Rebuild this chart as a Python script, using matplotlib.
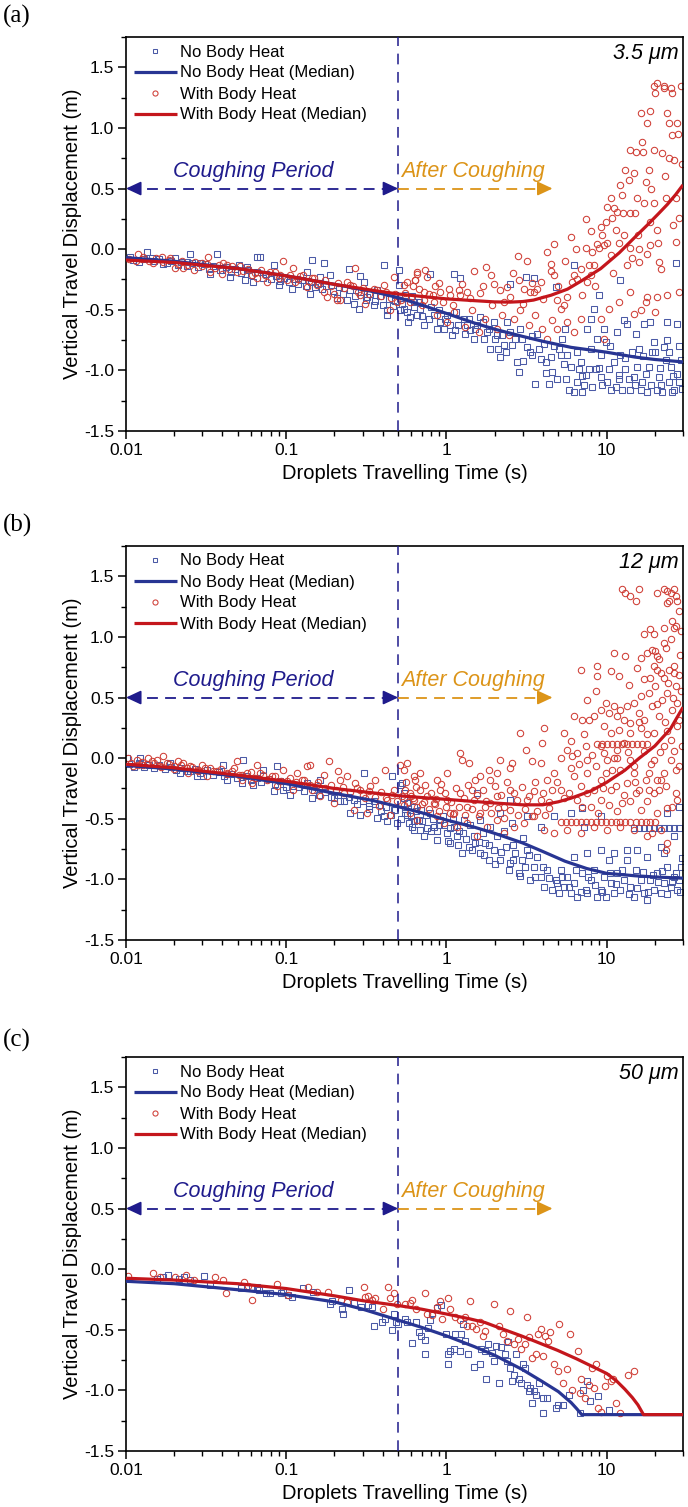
import numpy as np
import matplotlib
matplotlib.use("Agg")
import matplotlib.pyplot as plt
from matplotlib.ticker import FixedLocator, FuncFormatter, LogLocator, NullFormatter, MultipleLocator

plt.rcParams['font.family'] = ['Liberation Sans', 'DejaVu Sans']
plt.rcParams['axes.unicode_minus'] = False

# ---------------- DATA ----------------
PANEL_LABELS = ['(a)', '(b)', '(c)']
SIZES = ['3.5 \u03bcm', '12 \u03bcm', '50 \u03bcm']
X_TICKS = [0.01, 0.1, 1, 10]
Y_TICKS = [-1.5, -1.0, -0.5, 0.0, 0.5, 1.0, 1.5]
COUGH_END = 0.5
AFTER_ARROW_END = 4.6
LEGEND_LABELS = ['No Body Heat', 'No Body Heat (Median)', 'With Body Heat', 'With Body Heat (Median)']

# Panel (a) 3.5 um -- no body heat scatter (t [s], displacement [m])
A_BLUE = [
    (0.0106, -0.063), (0.0135, -0.027), (0.0145, -0.071), (0.0171, -0.126), (0.0202, -0.077), (0.0251, -0.038),
    (0.0239, -0.104), (0.029, -0.118), (0.0335, -0.201), (0.0369, -0.044), (0.0387, -0.173), (0.0447, -0.228),
    (0.0504, -0.132), (0.0554, -0.256), (0.0568, -0.146), (0.0656, -0.063), (0.0688, -0.063), (0.0625, -0.270),
    (0.0834, -0.132), (0.0896, -0.297), (0.108, -0.325), (0.135, -0.187), (0.145, -0.091), (0.141, -0.366),
    (0.173, -0.118), (0.163, -0.228), (0.188, -0.215), (0.207, -0.407), (0.245, -0.165), (0.239, -0.421),
    (0.264, -0.449), (0.283, -0.49), (0.29, -0.22), (0.304, -0.27), (0.319, -0.394), (0.351, -0.462),
    (0.369, -0.339), (0.406, -0.132), (0.426, -0.504), (0.426, -0.545), (0.504, -0.173), (0.504, -0.297),
    (0.516, -0.504), (0.568, -0.518), (0.596, -0.559), (0.625, -0.476),
    (0.011, -0.09), (0.012, -0.11), (0.013, -0.08), (0.015, -0.10), (0.016, -0.085), (0.018, -0.115),
    (0.019, -0.095), (0.021, -0.13), (0.022, -0.105), (0.024, -0.135), (0.026, -0.115), (0.028, -0.145),
    (0.031, -0.125), (0.033, -0.16), (0.035, -0.135), (0.040, -0.175), (0.042, -0.145), (0.045, -0.185),
    (0.048, -0.16), (0.052, -0.20), (0.058, -0.175), (0.060, -0.215), (0.066, -0.19), (0.072, -0.235),
    (0.075, -0.205), (0.080, -0.245), (0.086, -0.22), (0.092, -0.26), (0.097, -0.235), (0.104, -0.275),
    (0.112, -0.245), (0.118, -0.285), (0.125, -0.255), (0.132, -0.30), (0.142, -0.27), (0.152, -0.31),
    (0.158, -0.285), (0.168, -0.33), (0.178, -0.30), (0.195, -0.345), (0.215, -0.315), (0.226, -0.37),
    (0.25, -0.335), (0.27, -0.385), (0.295, -0.35), (0.315, -0.42), (0.335, -0.37), (0.36, -0.43),
    (0.385, -0.39), (0.40, -0.46), (0.44, -0.41), (0.465, -0.47), (0.48, -0.43),
    (0.541, -0.49), (0.596, -0.559), (0.625, -0.435), (0.688, -0.49), (0.721, -0.628), (0.794, -0.201),
    (0.833, -0.545), (0.917, -0.60), (0.962, -0.656), (1.059, -0.628), (1.111, -0.201), (1.138, -0.670),
    (1.223, -0.242), (1.283, -0.573), (1.346, -0.628), (1.413, -0.670), (1.518, -0.656), (1.632, -0.559),
    (1.711, -0.738), (1.839, -0.656), (1.976, -0.60), (2.074, -0.71), (2.175, -0.89), (2.282, -0.793),
    (2.393, -0.60), (2.512, -0.284), (2.70, -0.738), (2.83, -1.014), (2.90, -0.656), (3.12, -0.228),
    (3.19, -0.807), (3.35, -0.848), (3.51, -0.242), (3.60, -1.11), (3.69, -0.697), (3.87, -0.903),
    (4.06, -0.779), (4.36, -1.11), (4.47, -0.89), (4.80, -0.311), (4.92, -1.069), (5.16, -0.876),
    (5.28, -0.738), (5.41, -0.945), (5.68, -0.876), (5.96, -0.972), (6.25, -1.179), (6.25, -0.132),
    (6.56, -1.096), (6.88, -0.931), (7.21, -1.124), (7.57, -0.656), (7.76, -0.986), (7.94, -0.573),
    (8.14, -1.137), (8.33, -0.49), (8.54, -0.986), (8.74, -0.738), (8.96, -0.38), (9.17, -1.055),
    (9.40, -1.124), (9.62, -0.656), (9.86, -0.766), (10.1, -1.096), (10.6, -1.165), (11.1, -0.931),
    (11.7, -0.683), (11.9, -1.069), (12.2, -0.256), (12.5, -1.165), (12.8, -0.587), (13.1, -0.986),
    (13.5, -0.614), (14.1, -1.165), (14.8, -1.055), (15.2, -0.697), (15.5, -0.972), (15.9, -0.821),
    (16.3, -1.165), (17.1, -0.614), (17.5, -1.027), (17.9, -1.179), (18.8, -0.60), (19.8, -0.766),
    (20.2, -0.848), (20.7, -1.165), (21.2, -1.055), (21.8, -1.124), (22.8, -0.807), (23.4, -0.917),
    (23.9, -0.752), (23.9, -0.60), (24.5, -1.096), (25.1, -0.972), (25.7, -1.179), (27.0, -0.118),
    (27.7, -0.614), (27.7, -1.027), (28.3, -1.096), (29.0, -0.917),
    (0.55, -0.38), (0.58, -0.60), (0.656, -0.545), (0.67, -0.435), (0.78, -0.573), (0.875, -0.656),
    (0.896, -0.504), (1.01, -0.545), (1.085, -0.71), (1.19, -0.628), (1.38, -0.573), (1.48, -0.738),
    (1.56, -0.628), (1.79, -0.683), (1.88, -0.821), (2.02, -0.738), (2.23, -0.71), (2.34, -0.848),
    (2.57, -0.793), (2.75, -0.931), (2.98, -0.738), (3.43, -0.876), (3.78, -0.821), (4.16, -0.931),
    (4.58, -1.014), (5.04, -0.821), (5.55, -1.069), (5.82, -1.165), (6.72, -0.986), (7.05, -1.179),
    (7.39, -1.041), (10.3, -0.986), (11.4, -1.137), (13.8, -1.069), (16.7, -1.096), (18.4, -0.972),
    (22.3, -1.179), (26.4, -1.165), (12.2, -0.876), (9.17, -0.876), (14.5, -0.848), (19.3, -0.848),
    (0.53, -0.45), (0.61, -0.39), (0.7, -0.55), (0.8, -0.48), (0.98, -0.58), (1.15, -0.52),
    (1.3, -0.70), (1.7, -0.60), (2.1, -0.82), (2.5, -0.68), (3.0, -0.92), (3.4, -0.72),
    (4.2, -1.02), (4.7, -0.80), (5.5, -0.66), (6.5, -0.85), (7.0, -1.05), (8.0, -0.82),
    (9.0, -0.98), (10.5, -0.80), (12.0, -1.04), (13.0, -0.90), (15.0, -1.12), (17.0, -0.88),
    (19.0, -1.12), (21.5, -0.98), (24.5, -0.85), (26.0, -1.05), (28.5, -0.80), (29.5, -1.15),
]

# Panel (a) 3.5 um -- with body heat scatter
A_RED = [
    (0.0119, -0.036), (0.0128, -0.063), (0.0148, -0.118), (0.0167, -0.063), (0.0188, -0.077), (0.0202, -0.159),
    (0.0228, -0.159), (0.0264, -0.173), (0.0297, -0.118), (0.0327, -0.063), (0.0335, -0.187), (0.0396, -0.201),
    (0.0406, -0.118), (0.0426, -0.132), (0.0492, -0.187), (0.0516, -0.137), (0.061, -0.215), (0.0656, -0.242),
    (0.0757, -0.270), (0.0794, -0.187), (0.0917, -0.215), (0.0962, -0.099), (0.101, -0.256), (0.111, -0.159),
    (0.114, -0.270), (0.128, -0.215), (0.135, -0.311), (0.145, -0.242), (0.155, -0.297), (0.171, -0.352),
    (0.180, -0.394), (0.198, -0.366), (0.207, -0.421), (0.218, -0.421), (0.239, -0.270), (0.251, -0.297),
    (0.270, -0.154), (0.29, -0.38), (0.312, -0.449), (0.351, -0.325), (0.406, -0.297), (0.447, -0.504),
    (0.469, -0.228), (0.492, -0.435), (0.541, -0.297), (0.596, -0.435), (0.640, -0.256), (0.656, -0.201),
    (0.0105, -0.08), (0.0115, -0.10), (0.0125, -0.085), (0.014, -0.095), (0.0155, -0.075), (0.017, -0.105),
    (0.0185, -0.09), (0.021, -0.12), (0.0225, -0.10), (0.024, -0.13), (0.027, -0.11), (0.030, -0.14),
    (0.032, -0.12), (0.036, -0.155), (0.038, -0.13), (0.044, -0.165), (0.046, -0.14), (0.054, -0.18),
    (0.058, -0.16), (0.064, -0.20), (0.07, -0.175), (0.074, -0.21), (0.085, -0.19), (0.09, -0.235),
    (0.105, -0.21), (0.118, -0.25), (0.122, -0.225), (0.138, -0.265), (0.15, -0.24), (0.16, -0.28),
    (0.175, -0.255), (0.19, -0.305), (0.21, -0.28), (0.23, -0.32), (0.26, -0.30), (0.28, -0.35),
    (0.30, -0.32), (0.33, -0.37), (0.37, -0.34), (0.39, -0.39), (0.42, -0.35), (0.45, -0.40),
    (0.48, -0.37), (0.55, -0.36), (0.6, -0.40), (0.67, -0.33), (0.72, -0.42), (0.78, -0.37),
    (0.85, -0.30), (0.95, -0.44), (1.05, -0.38),
    (0.568, -0.27), (0.640, -0.256), (0.656, -0.187), (0.739, -0.173), (0.757, -0.228), (0.721, -0.352),
    (0.833, -0.435), (0.917, -0.352), (1.034, -0.325), (1.194, -0.339), (1.223, -0.380), (1.346, -0.352),
    (1.496, -0.182), (1.615, -0.358), (1.778, -0.146), (1.902, -0.215), (1.976, -0.284), (2.175, -0.339),
    (2.393, -0.311), (2.512, -0.394), (2.79, -0.055), (2.83, -0.256), (3.04, -0.325), (3.19, -0.099),
    (3.35, -0.352), (3.51, -0.352), (3.69, -0.325), (3.87, -0.27), (4.26, -0.022), (4.47, -0.182),
    (4.69, 0.039), (4.73, -0.215), (4.92, -0.421), (5.16, -0.49), (5.41, -0.463), (5.68, -0.394),
    (5.96, 0.102), (6.10, -0.27), (6.25, -0.215), (6.56, -0.248), (6.88, -0.16), (7.39, 0.248),
    (7.39, 0.006), (7.57, -0.27), (7.76, -0.132), (7.94, -0.215), (8.14, -0.022), (8.33, -0.132),
    (8.74, 0.039), (8.96, 0.006), (9.17, 0.185), (9.17, -0.573), (9.40, 0.116), (9.62, 0.033),
    (9.86, 0.226), (10.1, 0.047), (10.3, -0.49), (10.6, 0.419), (10.6, -0.05), (10.8, 0.254),
    (11.1, 0.336), (11.4, 0.157), (11.7, 0.309), (11.9, -0.435), (12.2, 0.529), (12.5, 0.446),
    (12.7, 0.295), (12.8, 0.116), (13.5, -0.132), (13.8, 0.570), (14.0, 0.295), (14.1, 0.818),
    (14.1, -0.352), (14.5, -0.077), (14.8, 0.625), (15.2, 0.805), (15.5, 0.419), (15.7, 0.116),
    (15.9, -0.105), (16.3, 1.121), (16.3, -0.504), (16.7, 0.887), (17.1, 0.378), (17.5, 0.557),
    (17.9, 1.039), (17.9, -0.036), (17.9, -0.394), (18.4, 0.653), (18.8, 1.141), (18.8, 0.226),
    (18.8, 0.033), (19.8, 0.818), (19.8, 0.378), (20.2, -0.518), (20.5, 0.157), (20.7, -0.394),
    (21.2, -0.105), (21.8, -0.16), (22.3, 0.791), (22.8, 1.328), (23.4, 0.419), (23.9, 1.121),
    (23.9, -0.38), (24.5, 1.039), (24.5, 0.75), (25.1, 1.328), (25.7, 0.942), (25.7, 1.287),
    (26.4, 0.736), (27.0, 0.419), (27.0, 0.061), (27.7, 1.039), (28.3, 0.254), (28.3, -0.352),
    (29.0, 1.342), (20.7, 1.369), (20.2, 1.287), (19.8, 1.342), (22.8, 1.342),
    (0.875, -0.545), (1.01, -0.60), (1.111, -0.518), (1.31, -0.642), (1.45, -0.504), (1.60, -0.683),
    (1.74, -0.573), (1.94, -0.463), (2.07, -0.656), (2.23, -0.545), (2.45, -0.71), (2.65, -0.573),
    (2.90, -0.504), (3.27, -0.628), (3.60, -0.545), (3.96, -0.656), (4.26, -0.738), (4.58, -0.587),
    (4.92, -0.656), (5.68, -0.60), (6.25, -0.683), (6.88, -0.573), (9.62, -0.738), (14.8, -0.531),
    (17.5, -0.435), (14.1, 0.006),
    (0.52, -0.42), (0.62, -0.30), (0.7, -0.46), (0.82, -0.38), (0.9, -0.28), (1.1, -0.46),
    (1.25, -0.29), (1.4, -0.40), (1.7, -0.30), (2.3, -0.44), (2.6, -0.20), (3.0, -0.45),
    (3.4, -0.28), (4.0, -0.41), (4.5, -0.12), (5.0, -0.30), (5.5, -0.10), (6.4, 0.0),
    (7.0, -0.38), (8.0, 0.15), (8.5, -0.30), (10.0, 0.35), (11.0, -0.20), (12.0, 0.05),
    (13.0, 0.65), (15.0, 0.30), (16.0, 0.0), (17.0, 0.80), (19.0, 0.50), (21.0, 0.05),
    (23.0, 0.60), (26.0, 0.20), (28.0, 0.95), (29.5, 0.70),
]

# Panel (b) 12 um -- no body heat scatter
B_BLUE = [
    (0.0101, 0.001), (0.0122, 0.001), (0.0188, -0.04), (0.0217, -0.123), (0.0239, -0.109), (0.0277, -0.15),
    (0.0304, -0.15), (0.0406, -0.054), (0.0426, -0.178), (0.0541, -0.013), (0.0528, -0.206), (0.0625, -0.219),
    (0.0721, -0.095), (0.0874, -0.068), (0.0834, -0.274), (0.0962, -0.261), (0.106, -0.302), (0.111, -0.233),
    (0.135, -0.206), (0.145, -0.33), (0.163, -0.178), (0.198, -0.33), (0.218, -0.357), (0.251, -0.454),
    (0.264, -0.343), (0.29, -0.467), (0.304, -0.123), (0.327, -0.398), (0.351, -0.357), (0.369, -0.495),
    (0.406, -0.481), (0.426, -0.522), (0.458, -0.15), (0.469, -0.426), (0.492, -0.536), (0.516, -0.219),
    (0.541, -0.33), (0.568, -0.467), (0.610, -0.564), (0.625, -0.591), (0.671, -0.509),
    (0.0105, -0.05), (0.0112, -0.07), (0.012, -0.04), (0.013, -0.075), (0.014, -0.055), (0.015, -0.085),
    (0.016, -0.06), (0.0175, -0.09), (0.019, -0.07), (0.0205, -0.10), (0.022, -0.08), (0.025, -0.11),
    (0.027, -0.09), (0.029, -0.125), (0.032, -0.10), (0.035, -0.135), (0.038, -0.115), (0.041, -0.15),
    (0.045, -0.13), (0.049, -0.165), (0.056, -0.145), (0.06, -0.18), (0.066, -0.16), (0.07, -0.20),
    (0.078, -0.175), (0.085, -0.215), (0.092, -0.19), (0.1, -0.235), (0.12, -0.24), (0.13, -0.275),
    (0.15, -0.26), (0.16, -0.30), (0.175, -0.28), (0.19, -0.32), (0.21, -0.30), (0.23, -0.35),
    (0.245, -0.32), (0.275, -0.38), (0.3, -0.35), (0.33, -0.42), (0.36, -0.38), (0.39, -0.44),
    (0.42, -0.40), (0.45, -0.47), (0.48, -0.43), (0.52, -0.50), (0.55, -0.42), (0.6, -0.48),
    (0.65, -0.44), (0.7, -0.52), (0.75, -0.47), (0.8, -0.60), (0.9, -0.55), (0.95, -0.48),
    (1.05, -0.58), (1.2, -0.60), (1.4, -0.55), (1.5, -0.70), (1.7, -0.62), (2.3, -0.60),
    (2.6, -0.72), (3.0, -0.66),
    (0.528, -0.206), (0.541, -0.289), (0.554, -0.454), (0.582, -0.536), (0.625, -0.399), (0.656, -0.509),
    (0.688, -0.591), (0.721, -0.646), (0.794, -0.454), (0.833, -0.564), (0.874, -0.674), (0.917, -0.509),
    (1.01, -0.619), (1.059, -0.702), (1.111, -0.564), (1.166, -0.646), (1.253, -0.784), (1.283, -0.509),
    (1.379, -0.729), (1.482, -0.646), (1.555, -0.289), (1.632, -0.784), (1.75, -0.702), (1.839, -0.839),
    (1.976, -0.757), (2.074, -0.646), (2.175, -0.839), (2.34, -0.729), (2.512, -0.344), (2.512, -0.867),
    (2.70, -0.784), (2.83, -0.95), (2.98, -0.839), (3.19, -0.757), (3.35, -1.005), (3.51, -0.894),
    (3.69, -0.812), (3.87, -0.977), (4.06, -1.06), (4.26, -0.922), (4.58, -1.087), (4.80, -1.005),
    (5.04, -1.115), (5.16, -0.922), (5.41, -1.06), (5.68, -0.977), (5.96, -1.115), (6.25, -1.032),
    (6.56, -1.142), (7.05, -0.412), (7.05, -0.95), (7.39, -1.087), (7.57, -1.115), (7.94, -1.005),
    (8.33, -0.922), (8.74, -1.142), (9.17, -1.087), (9.62, -0.977), (9.86, -1.142), (10.3, -0.839),
    (10.6, -1.032), (11.1, -1.115), (11.7, -0.95), (12.2, -1.087), (12.8, -1.005), (13.5, -0.839),
    (14.1, -1.06), (14.8, -1.142), (15.2, -0.922), (16.3, -1.005), (17.1, -1.115), (17.9, -1.17),
    (18.8, -1.005), (19.8, -1.087), (20.7, -0.95), (21.8, -1.115), (22.8, -1.032), (23.9, -0.894),
    (25.1, -1.06), (26.4, -0.977), (27.7, -1.087), (28.3, -1.005), (29.0, -0.894),
    (13.5, -0.757), (11.1, -0.784), (9.17, -0.757), (7.57, -0.784), (6.25, -0.812), (17.9, -0.812),
    (22.8, -0.784), (26.4, -0.646), (9.17, -0.481), (7.21, -0.564), (5.96, -0.454), (4.69, -0.481),
    (3.87, -0.564), (3.19, -0.481), (2.573, -0.536), (2.175, -0.454), (1.884, -0.564), (1.632, -0.509),
    (14.8, -0.58), (15.9, -0.58), (17.1, -0.58), (18.4, -0.58), (19.8, -0.58), (21.2, -0.58),
    (22.8, -0.58), (24.5, -0.58), (26.4, -0.58), (28.3, -0.58),
    (23.9, -0.454), (28.3, -0.399), (21.8, -0.729), (15.5, -0.757),
    (0.57, -0.37), (0.63, -0.52), (0.69, -0.43), (0.76, -0.58), (0.82, -0.50), (0.88, -0.60),
    (0.96, -0.55), (1.03, -0.68), (1.1, -0.50), (1.18, -0.72), (1.27, -0.62), (1.33, -0.67),
    (1.45, -0.76), (1.6, -0.69), (1.72, -0.80), (1.85, -0.72), (2.0, -0.87), (2.2, -0.77),
    (2.45, -0.92), (2.6, -0.84), (2.9, -0.97), (3.1, -0.90), (3.3, -0.80), (3.6, -0.98),
    (4.0, -0.90), (4.4, -0.99), (4.9, -1.03), (5.3, -0.98), (5.8, -1.06), (6.4, -0.92),
    (6.9, -1.10), (7.7, -0.98), (8.5, -1.05), (9.4, -1.10), (10.5, -0.95), (11.4, -1.04),
    (12.5, -0.92), (13.8, -1.12), (15.5, -1.07), (16.8, -0.94), (18.2, -1.10), (19.5, -0.96),
    (21.0, -1.02), (22.2, -0.93), (24.0, -1.12), (25.5, -1.02), (27.0, -0.95), (28.8, -1.10),
    (29.5, -0.82),
]

# Panel (b) 12 um -- with body heat scatter
B_RED = [
    (0.0103, 0.001), (0.0111, -0.068), (0.0117, -0.013), (0.0128, -0.054), (0.0138, 0.001), (0.0145, -0.027),
    (0.0156, -0.013), (0.0163, -0.068), (0.0171, 0.015), (0.0179, -0.04), (0.0198, -0.068), (0.0212, -0.027),
    (0.0228, -0.04), (0.0245, -0.123), (0.0251, -0.068), (0.0283, -0.109), (0.0297, -0.054), (0.0319, -0.15),
    (0.0335, -0.082), (0.0369, -0.109), (0.0426, -0.123), (0.0469, -0.082), (0.0492, -0.027), (0.0504, -0.137),
    (0.0528, -0.178), (0.0568, -0.123), (0.061, -0.206), (0.0656, -0.054), (0.0688, -0.123), (0.0757, -0.178),
    (0.0813, -0.15), (0.0874, -0.233), (0.0962, -0.095), (0.101, -0.192), (0.111, -0.261), (0.117, -0.123),
    (0.125, -0.178), (0.135, -0.068), (0.141, -0.054), (0.145, -0.261), (0.155, -0.219), (0.163, -0.316),
    (0.171, -0.137), (0.184, -0.027), (0.188, -0.261), (0.198, -0.371), (0.212, -0.109), (0.218, -0.178),
    (0.228, -0.288), (0.239, -0.15), (0.264, -0.426), (0.270, -0.206), (0.29, -0.261), (0.312, -0.33),
    (0.319, -0.454), (0.335, -0.233), (0.360, -0.178), (0.377, -0.398), (0.415, -0.095), (0.426, -0.343),
    (0.447, -0.467), (0.469, -0.261), (0.516, -0.054), (0.541, -0.385), (0.596, -0.288), (0.625, -0.15),
    (0.656, -0.509),
    (0.0108, -0.04), (0.0118, -0.06), (0.0125, -0.03), (0.0135, -0.05), (0.015, -0.04), (0.0165, -0.075),
    (0.0185, -0.05), (0.020, -0.09), (0.022, -0.06), (0.024, -0.085), (0.026, -0.07), (0.028, -0.095),
    (0.031, -0.08), (0.035, -0.11), (0.039, -0.09), (0.043, -0.13), (0.046, -0.105), (0.053, -0.14),
    (0.06, -0.115), (0.064, -0.16), (0.072, -0.135), (0.078, -0.17), (0.085, -0.15), (0.093, -0.19),
    (0.105, -0.165), (0.115, -0.20), (0.13, -0.18), (0.14, -0.22), (0.158, -0.20), (0.175, -0.245),
    (0.19, -0.22), (0.205, -0.26), (0.225, -0.235), (0.25, -0.28), (0.275, -0.25), (0.3, -0.30),
    (0.33, -0.27), (0.36, -0.32), (0.39, -0.28), (0.42, -0.33), (0.46, -0.30), (0.49, -0.35),
    (0.53, -0.31), (0.58, -0.36), (0.62, -0.33), (0.66, -0.40), (0.72, -0.36), (0.78, -0.42),
    (0.85, -0.38), (0.9, -0.44), (1.0, -0.40), (1.1, -0.46), (1.2, -0.40), (1.3, -0.47),
    (1.45, -0.42), (1.6, -0.48), (1.75, -0.40), (1.9, -0.45), (2.1, -0.41), (2.3, -0.49),
    (2.5, -0.43), (2.8, -0.47), (3.1, -0.42), (3.4, -0.48), (3.7, -0.44), (4.1, -0.47), (4.4, -0.41),
    (12.5, 1.392), (13.1, 1.365), (14.1, 1.337), (15.2, 1.296), (15.9, 1.392), (20.7, 1.365),
    (22.8, 1.392), (23.9, 1.378), (25.1, 1.365), (26.4, 1.392), (27.0, 1.337), (23.9, 1.282),
    (24.5, 1.296), (27.7, 1.296), (28.3, 1.213), (18.8, 1.062), (17.1, 1.02), (19.8, 1.02),
    (22.8, 1.075), (25.7, 1.131), (26.4, 1.075), (27.0, 1.089), (17.9, 0.869), (19.3, 0.896),
    (20.2, 0.882), (20.7, 0.841), (22.8, 0.951), (23.4, 0.91), (25.1, 0.979), (21.2, 0.814),
    (16.3, 0.827), (15.5, 0.745), (19.8, 0.759), (20.7, 0.731), (26.4, 0.759), (24.5, 0.731),
    (26.4, 0.703), (28.3, 0.69), (18.8, 0.662), (22.8, 0.662), (11.1, 0.869), (13.1, 0.841),
    (13.8, 0.607), (10.6, 0.717), (11.9, 0.676), (8.74, 0.759), (8.74, 0.676), (8.54, 0.552),
    (6.88, 0.731),
    (9.17, 0.40), (9.86, 0.456), (10.3, 0.373), (11.1, 0.428), (11.7, 0.345), (12.2, 0.40),
    (12.8, 0.318), (13.5, 0.428), (14.1, 0.29), (14.8, 0.456), (15.9, 0.373), (16.3, 0.511),
    (17.1, 0.318), (18.4, 0.538), (19.3, 0.428), (20.2, 0.593), (21.2, 0.345), (22.3, 0.483),
    (23.9, 0.538), (25.7, 0.40), (27.0, 0.593), (27.7, 0.456), (28.3, 0.318), (9.62, 0.263),
    (10.6, 0.208), (11.9, 0.235), (14.1, 0.208), (16.3, 0.249), (19.8, 0.208), (23.9, 0.222),
    (27.7, 0.263), (8.33, 0.345), (7.57, 0.483), (7.05, 0.318), (6.25, 0.345), (5.41, 0.208),
    (7.76, 0.318), (4.06, 0.249), (3.96, 0.125), (2.90, 0.208), (3.12, 0.07), (3.43, -0.027),
    (3.87, -0.04), (2.175, -0.013), (2.573, -0.04), (2.512, -0.082), (2.074, -0.123), (1.839, -0.096),
    (1.884, -0.178), (1.518, -0.178), (1.632, -0.151), (1.447, -0.261), (1.223, 0.042), (1.253, -0.013),
    (1.379, -0.04), (1.01, -0.123), (0.874, -0.178), (0.688, -0.123), (0.640, -0.178), (0.568, -0.04),
    (0.541, -0.096),
    (5.16, 0.001), (5.68, 0.07), (5.96, 0.139), (6.10, 0.015), (6.56, 0.042), (7.39, 0.097),
    (7.57, -0.013), (8.14, 0.029), (9.17, 0.097), (9.62, 0.042), (10.1, -0.013), (11.1, 0.001),
    (11.7, 0.07), (12.8, 0.125), (14.1, -0.013), (14.8, -0.068), (17.1, 0.056), (18.4, -0.123),
    (19.8, -0.013), (22.8, 0.097), (25.1, -0.013), (26.4, 0.056), (28.3, -0.068), (22.8, -0.123),
    (20.7, -0.178),
    (8.74, 0.12), (9.40, 0.12), (10.1, 0.12), (10.8, 0.12), (11.7, 0.12), (12.5, 0.12),
    (13.5, 0.12), (14.5, 0.12), (15.5, 0.12), (16.7, 0.12), (17.9, 0.12),
    (6.25, -0.151), (6.88, -0.233), (7.57, -0.123), (8.54, -0.068), (9.17, -0.178), (9.86, -0.123),
    (10.6, -0.261), (11.4, -0.233), (12.2, -0.096), (13.5, -0.206), (14.8, -0.123), (15.2, -0.289),
    (15.9, -0.261), (17.5, -0.178), (18.4, -0.261), (19.8, -0.289), (21.2, -0.261), (21.8, -0.178),
    (23.4, -0.233), (27.0, -0.289), (27.7, -0.344), (25.7, -0.399), (23.9, -0.412), (20.7, -0.454),
    (17.9, -0.357), (16.3, -0.426), (14.1, -0.357), (12.5, -0.371), (11.7, -0.44), (10.3, -0.385),
    (9.17, -0.344), (8.33, -0.261), (7.57, -0.289), (7.05, -0.399), (6.56, -0.344), (5.82, -0.289),
    (5.16, -0.261), (4.69, -0.123), (4.58, -0.261), (4.26, -0.178), (3.87, -0.344), (3.51, -0.275),
    (3.19, -0.344), (2.765, -0.344), (2.512, -0.261), (2.282, -0.399), (2.074, -0.316), (1.884, -0.371),
    (1.632, -0.454), (1.482, -0.344), (1.346, -0.399), (1.223, -0.289), (1.111, -0.454), (1.01, -0.344),
    (0.917, -0.261), (0.833, -0.371), (0.757, -0.316), (0.688, -0.261), (0.625, -0.344), (0.596, -0.454),
    (0.554, -0.261),
    (5.16, -0.53), (5.55, -0.53), (5.96, -0.53), (6.40, -0.53), (6.88, -0.53), (7.39, -0.53),
    (7.94, -0.53), (8.54, -0.53), (9.17, -0.53), (9.86, -0.53), (10.6, -0.53), (11.4, -0.53),
    (12.2, -0.53), (13.1, -0.53), (14.1, -0.53), (15.2, -0.53), (16.3, -0.53), (17.5, -0.53),
    (18.8, -0.53), (20.2, -0.53),
    (0.874, -0.481), (0.962, -0.536), (1.059, -0.454), (1.166, -0.564), (1.346, -0.536), (1.555, -0.646),
    (1.795, -0.564), (2.074, -0.509), (2.282, -0.619), (2.636, -0.564), (3.04, -0.536), (3.51, -0.481),
    (4.06, -0.591), (4.69, -0.619), (5.68, -0.591), (6.88, -0.619), (8.33, -0.564), (10.1, -0.591),
    (12.2, -0.564), (14.8, -0.591), (17.9, -0.646), (21.8, -0.591), (23.9, -0.702), (23.4, -0.757),
    (19.3, -0.619),
    (0.56, -0.20), (0.6, -0.31), (0.65, -0.24), (0.7, -0.38), (0.74, -0.22), (0.8, -0.29),
    (0.86, -0.34), (0.93, -0.21), (0.98, -0.29), (1.07, -0.36), (1.15, -0.25), (1.28, -0.33),
    (1.36, -0.22), (1.55, -0.30), (1.7, -0.26), (1.78, -0.35), (2.0, -0.23), (2.2, -0.30),
    (2.4, -0.20), (2.65, -0.29), (2.95, -0.24), (3.3, -0.31), (3.6, -0.20), (4.0, -0.29),
    (4.35, -0.36), (4.9, -0.20), (5.4, -0.33), (6.0, -0.08), (6.7, -0.05), (7.2, 0.20),
    (8.0, -0.40), (8.8, -0.45), (9.5, -0.25), (10.8, -0.10), (11.6, 0.0), (12.9, -0.30),
    (13.7, 0.05), (15.0, -0.20), (16.0, 0.30), (17.2, 0.65), (18.0, 0.20), (19.0, -0.05),
    (20.5, 0.45), (21.5, 0.05), (22.0, 0.70), (23.0, 0.30), (24.2, 0.62), (25.4, 0.15),
    (26.0, 0.50), (27.3, -0.10), (28.6, 0.85), (29.3, 0.55), (29.5, 0.10), (29.2, 1.05),
]

# Panel (c) 50 um -- no body heat scatter
C_BLUE = [
    (0.0183, -0.047), (0.0169, -0.067), (0.0156, -0.084), (0.0214, -0.084), (0.0231, -0.067), (0.025, -0.089),
    (0.0305, -0.056), (0.0333, -0.131), (0.052, -0.159), (0.061, -0.145), (0.066, -0.145), (0.068, -0.173),
    (0.075, -0.195), (0.079, -0.20), (0.0925, -0.195), (0.095, -0.178), (0.103, -0.214), (0.108, -0.228),
    (0.127, -0.153), (0.148, -0.187), (0.188, -0.284), (0.193, -0.262), (0.223, -0.326), (0.225, -0.367),
    (0.248, -0.173), (0.264, -0.278), (0.293, -0.312), (0.325, -0.298), (0.343, -0.312), (0.352, -0.473),
    (0.397, -0.437), (0.412, -0.409), (0.457, -0.501), (0.469, -0.367), (0.482, -0.437), (0.50, -0.451),
    (0.549, -0.409), (0.564, -0.437), (0.61, -0.612), (0.643, -0.437), (0.678, -0.521), (0.695, -0.548),
    (0.733, -0.585), (0.733, -0.696), (0.771, -0.484), (0.792, -0.423), (0.813, -0.362), (0.879, -0.317),
    (0.927, -0.298), (1.00, -0.535), (1.03, -0.785), (1.03, -0.702), (1.06, -0.674), (1.11, -0.66),
    (1.14, -0.535), (1.21, -0.679), (1.24, -0.535), (1.27, -0.451), (1.30, -0.596), (1.37, -0.696),
    (1.49, -0.807), (1.61, -0.785), (1.65, -0.66), (1.74, -0.674), (1.78, -0.902), (1.83, -0.618),
    (1.93, -0.688), (1.98, -0.757), (2.03, -0.632), (2.14, -0.938), (2.20, -0.646), (2.32, -0.702),
    (2.38, -0.757), (2.44, -0.604), (2.51, -0.813), (2.57, -0.924), (2.64, -0.869), (2.71, -0.702),
    (2.86, -0.91), (2.93, -0.938), (3.01, -0.785), (3.09, -0.813), (3.17, -0.952), (3.26, -1.008),
    (3.34, -0.98), (3.43, -1.105), (3.52, -1.008), (3.62, -1.036), (3.81, -0.938), (4.02, -1.063),
    (4.02, -1.189), (4.23, -1.063), (4.82, -1.147), (4.95, -1.119), (5.36, -1.119), (5.80, -1.036),
    (6.78, -1.189), (7.14, -0.994), (7.53, -0.924), (7.93, -1.091), (8.81, -1.05), (10.3, -1.161),
]

# Panel (c) 50 um -- with body heat scatter
C_RED = [
    (0.0103, -0.056), (0.0148, -0.033), (0.0164, -0.067), (0.0203, -0.061), (0.0237, -0.047), (0.0264, -0.089),
    (0.0361, -0.067), (0.0401, -0.089), (0.0422, -0.195), (0.0548, -0.103), (0.0578, -0.139), (0.0615, -0.251),
    (0.0879, -0.122), (0.103, -0.214), (0.137, -0.145), (0.156, -0.187), (0.183, -0.187), (0.22, -0.256),
    (0.238, -0.27), (0.305, -0.145), (0.312, -0.228), (0.325, -0.223), (0.343, -0.256), (0.361, -0.242),
    (0.401, -0.326), (0.434, -0.145), (0.446, -0.242), (0.469, -0.20), (0.494, -0.284), (0.549, -0.284),
    (0.594, -0.278), (0.61, -0.256), (0.643, -0.326), (0.733, -0.20), (0.752, -0.373), (0.813, -0.381),
    (0.879, -0.312), (0.917, -0.262), (0.937, -0.409), (1.03, -0.242), (1.06, -0.326), (1.14, -0.395),
    (1.21, -0.423), (1.30, -0.395), (1.34, -0.465), (1.41, -0.262), (1.45, -0.465), (1.52, -0.493),
    (1.61, -0.437), (1.69, -0.548), (1.74, -0.507), (1.98, -0.29), (2.14, -0.465), (2.26, -0.535),
    (2.38, -0.59), (2.51, -0.345), (2.64, -0.618), (2.78, -0.576), (2.93, -0.66), (3.09, -0.618),
    (3.17, -0.395), (3.26, -0.562), (3.43, -0.729), (3.62, -0.702), (3.71, -0.535), (3.91, -0.493),
    (4.02, -0.715), (4.12, -0.548), (4.34, -0.59), (4.46, -0.521), (4.70, -0.785), (4.95, -0.841),
    (5.08, -0.451), (5.36, -0.938), (5.64, -0.827), (5.95, -0.535), (6.11, -0.994), (6.61, -0.674),
    (6.78, -1.022), (6.96, -0.91), (7.33, -1.063), (7.73, -0.952), (8.14, -0.813), (8.36, -0.98),
    (8.58, -0.785), (8.81, -1.147), (9.28, -1.175), (9.78, -0.966), (10.0, -0.883), (10.6, -0.924),
    (10.9, -0.91), (11.4, -1.105), (12.1, -1.189), (13.7, -0.869), (14.9, -0.841),
]

# Median curves (t [s], displacement [m])
A_BLUE_MED = [(0.01, -0.07), (0.02, -0.10), (0.05, -0.16), (0.1, -0.22), (0.2, -0.29), (0.35, -0.35),
              (0.5, -0.40), (0.7, -0.46), (1.0, -0.53), (1.5, -0.61), (2.0, -0.66), (3.0, -0.72),
              (4.0, -0.76), (6.0, -0.81), (10, -0.85), (15, -0.89), (20, -0.91), (30, -0.93)]
A_RED_MED = [(0.01, -0.09), (0.02, -0.11), (0.05, -0.16), (0.1, -0.22), (0.2, -0.29), (0.35, -0.34),
             (0.5, -0.37), (0.7, -0.39), (1.0, -0.41), (1.5, -0.425), (2.0, -0.435), (2.5, -0.437),
             (3.0, -0.432), (3.5, -0.42), (4.5, -0.38), (5.7, -0.33), (7.0, -0.26), (9.2, -0.16),
             (12, -0.03), (14.8, 0.09), (18, 0.20), (21, 0.29), (24, 0.37), (27, 0.45), (30, 0.53)]
B_BLUE_MED = [(0.01, -0.06), (0.02, -0.09), (0.05, -0.15), (0.1, -0.21), (0.2, -0.29), (0.35, -0.35),
              (0.5, -0.40), (0.7, -0.45), (1.0, -0.51), (1.5, -0.57), (2.0, -0.62), (3.0, -0.70),
              (4.0, -0.77), (5.5, -0.85), (7.5, -0.91), (10, -0.95), (15, -0.97), (20, -0.98), (30, -0.99)]
B_RED_MED = [(0.01, -0.05), (0.02, -0.08), (0.05, -0.14), (0.1, -0.19), (0.2, -0.25), (0.5, -0.31),
             (1.0, -0.34), (2.0, -0.37), (3.0, -0.385), (4.0, -0.385), (5.0, -0.36), (6.0, -0.33),
             (8.0, -0.27), (10, -0.20), (13, -0.10), (16, 0.00), (20, 0.10), (25, 0.24), (30, 0.42)]
C_BLUE_MED = [(0.01, -0.10), (0.02, -0.12), (0.05, -0.17), (0.1, -0.21), (0.2, -0.27), (0.3, -0.33),
              (0.5, -0.42), (0.7, -0.48), (1.0, -0.55), (1.5, -0.64), (2.0, -0.71), (3.0, -0.83),
              (4.0, -0.93), (5.0, -1.01), (6.0, -1.10), (6.5, -1.15), (7.0, -1.20), (30, -1.20)]
C_RED_MED = [(0.01, -0.075), (0.02, -0.09), (0.05, -0.12), (0.1, -0.16), (0.2, -0.22), (0.3, -0.26),
             (0.5, -0.30), (0.7, -0.33), (1.0, -0.37), (1.4, -0.41), (1.74, -0.44), (2.2, -0.49),
             (2.93, -0.55), (3.5, -0.59), (4.95, -0.67), (6.5, -0.74), (8.36, -0.81), (10, -0.86),
             (11.5, -0.92), (13, -0.99), (14.5, -1.06), (15.7, -1.12), (16.5, -1.17), (17, -1.20), (30, -1.20)]

PANELS = [
    (A_BLUE, A_RED, A_BLUE_MED, A_RED_MED),
    (B_BLUE, B_RED, B_BLUE_MED, B_RED_MED),
    (C_BLUE, C_RED, C_BLUE_MED, C_RED_MED),
]

# ---------------- STYLE ----------------
C_SQ = '#4b5aa6'
C_CI = '#cf3d35'
C_BMED = '#283593'
C_RMED = '#c4161c'
C_NAVY = '#1f1b8c'
C_ORANGE = '#dc9418'

fig = plt.figure(figsize=(6.88, 15.07), dpi=100)
L, W, H = 126 / 688, 557 / 688, 394 / 1507
bottoms = [1 - 431 / 1507, 1 - 940 / 1507, 1 - 1451 / 1507]
label_y = [1 - 16 / 1507, 1 - 525 / 1507, 1 - 1040 / 1507]

for i, (blue, red, bmed, rmed) in enumerate(PANELS):
    ax = fig.add_axes([L, bottoms[i], W, H])
    bt, by = np.array(blue).T
    rt, ry = np.array(red).T
    bmt, bmy = np.array(bmed).T
    rmt, rmy = np.array(rmed).T

    h1, = ax.plot(bt, by, ls='none', marker='s', ms=3.9, mfc='none', mec=C_SQ, mew=0.75, zorder=2)
    h3, = ax.plot(rt, ry, ls='none', marker='o', ms=4.6, mfc='none', mec=C_CI, mew=0.75, zorder=2)
    h2, = ax.plot(bmt, bmy, color=C_BMED, lw=2.3, zorder=4, solid_capstyle='butt')
    h4, = ax.plot(rmt, rmy, color=C_RMED, lw=2.3, zorder=5, solid_capstyle='butt')

    ax.set_xscale('log')
    ax.set_xlim(0.01, 30)
    ax.set_ylim(-1.5, 1.75)

    # end of coughing
    ax.axvline(COUGH_END, color=C_NAVY, lw=1.1, ls=(0, (7, 5)), zorder=3)

    # coughing period arrow
    ax.plot([0.0105, COUGH_END * 0.96], [0.5, 0.5], color=C_NAVY, lw=1.3, ls=(0, (6, 4)), zorder=3)
    ax.annotate('', xy=(0.01, 0.5), xytext=(9, 0), textcoords='offset points',
                arrowprops=dict(arrowstyle='-|>,head_length=0.6,head_width=0.28', mutation_scale=15,
                                color=C_NAVY, lw=1.3, shrinkA=0, shrinkB=0), zorder=3)
    ax.annotate('', xy=(COUGH_END, 0.5), xytext=(-9, 0), textcoords='offset points',
                arrowprops=dict(arrowstyle='-|>,head_length=0.6,head_width=0.28', mutation_scale=15,
                                color=C_NAVY, lw=1.3, shrinkA=0, shrinkB=0), zorder=3)
    # after coughing arrow
    ax.plot([COUGH_END, AFTER_ARROW_END * 0.9], [0.5, 0.5], color=C_ORANGE, lw=1.3, ls=(0, (6, 4)), zorder=3)
    ax.annotate('', xy=(AFTER_ARROW_END, 0.5), xytext=(-9, 0), textcoords='offset points',
                arrowprops=dict(arrowstyle='-|>,head_length=0.6,head_width=0.28', mutation_scale=15,
                                color=C_ORANGE, lw=1.3, shrinkA=0, shrinkB=0), zorder=3)
    ax.text(0.062, 0.64, 'Coughing Period', ha='center', va='center', fontsize=15.5,
            style='italic', color=C_NAVY)
    ax.text(0.52, 0.64, 'After Coughing', ha='left', va='center', fontsize=15.5,
            style='italic', color=C_ORANGE)
    ax.text(0.992, 0.985, SIZES[i], transform=ax.transAxes, ha='right', va='top',
            fontsize=15.5, style='italic', color='black')

    # ticks
    ax.xaxis.set_major_locator(FixedLocator(X_TICKS))
    ax.xaxis.set_major_formatter(FuncFormatter(lambda v, p: f'{v:g}'))
    ax.xaxis.set_minor_locator(LogLocator(base=10, subs=np.arange(2, 10), numticks=20))
    ax.xaxis.set_minor_formatter(NullFormatter())
    ax.yaxis.set_major_locator(FixedLocator(Y_TICKS))
    ax.yaxis.set_major_formatter(FuncFormatter(lambda v, p: f'{v:.1f}'))
    ax.yaxis.set_minor_locator(MultipleLocator(0.25))
    ax.tick_params(which='major', direction='out', length=6, width=1.1, labelsize=12.5, pad=2.5,
                   top=False, right=False)
    ax.tick_params(which='minor', direction='out', length=3.5, width=1.0, top=False, right=False)
    for s in ax.spines.values():
        s.set_linewidth(1.2)

    ax.set_xlabel('Droplets Travelling Time (s)', fontsize=14.5)
    ax.xaxis.set_label_coords(0.5, -0.083)
    ax.set_ylabel('Vertical Travel Displacement (m)', fontsize=14.5)
    ax.yaxis.set_label_coords(-0.079, 0.5)

    leg = ax.legend([h1, h2, h3, h4], LEGEND_LABELS, loc='upper left', bbox_to_anchor=(0.0, 1.0),
                    frameon=False, fontsize=12, handlelength=2.6, handletextpad=0.2,
                    labelspacing=0.36, borderaxespad=0.0, borderpad=0.45, markerscale=0.8)
    leg._legend_box.align = 'left'

    fig.text(0.004, label_y[i], PANEL_LABELS[i], ha='left', va='center', fontsize=18,
             family=['Liberation Serif', 'DejaVu Serif'])

fig.savefig('out.png', dpi=100)
